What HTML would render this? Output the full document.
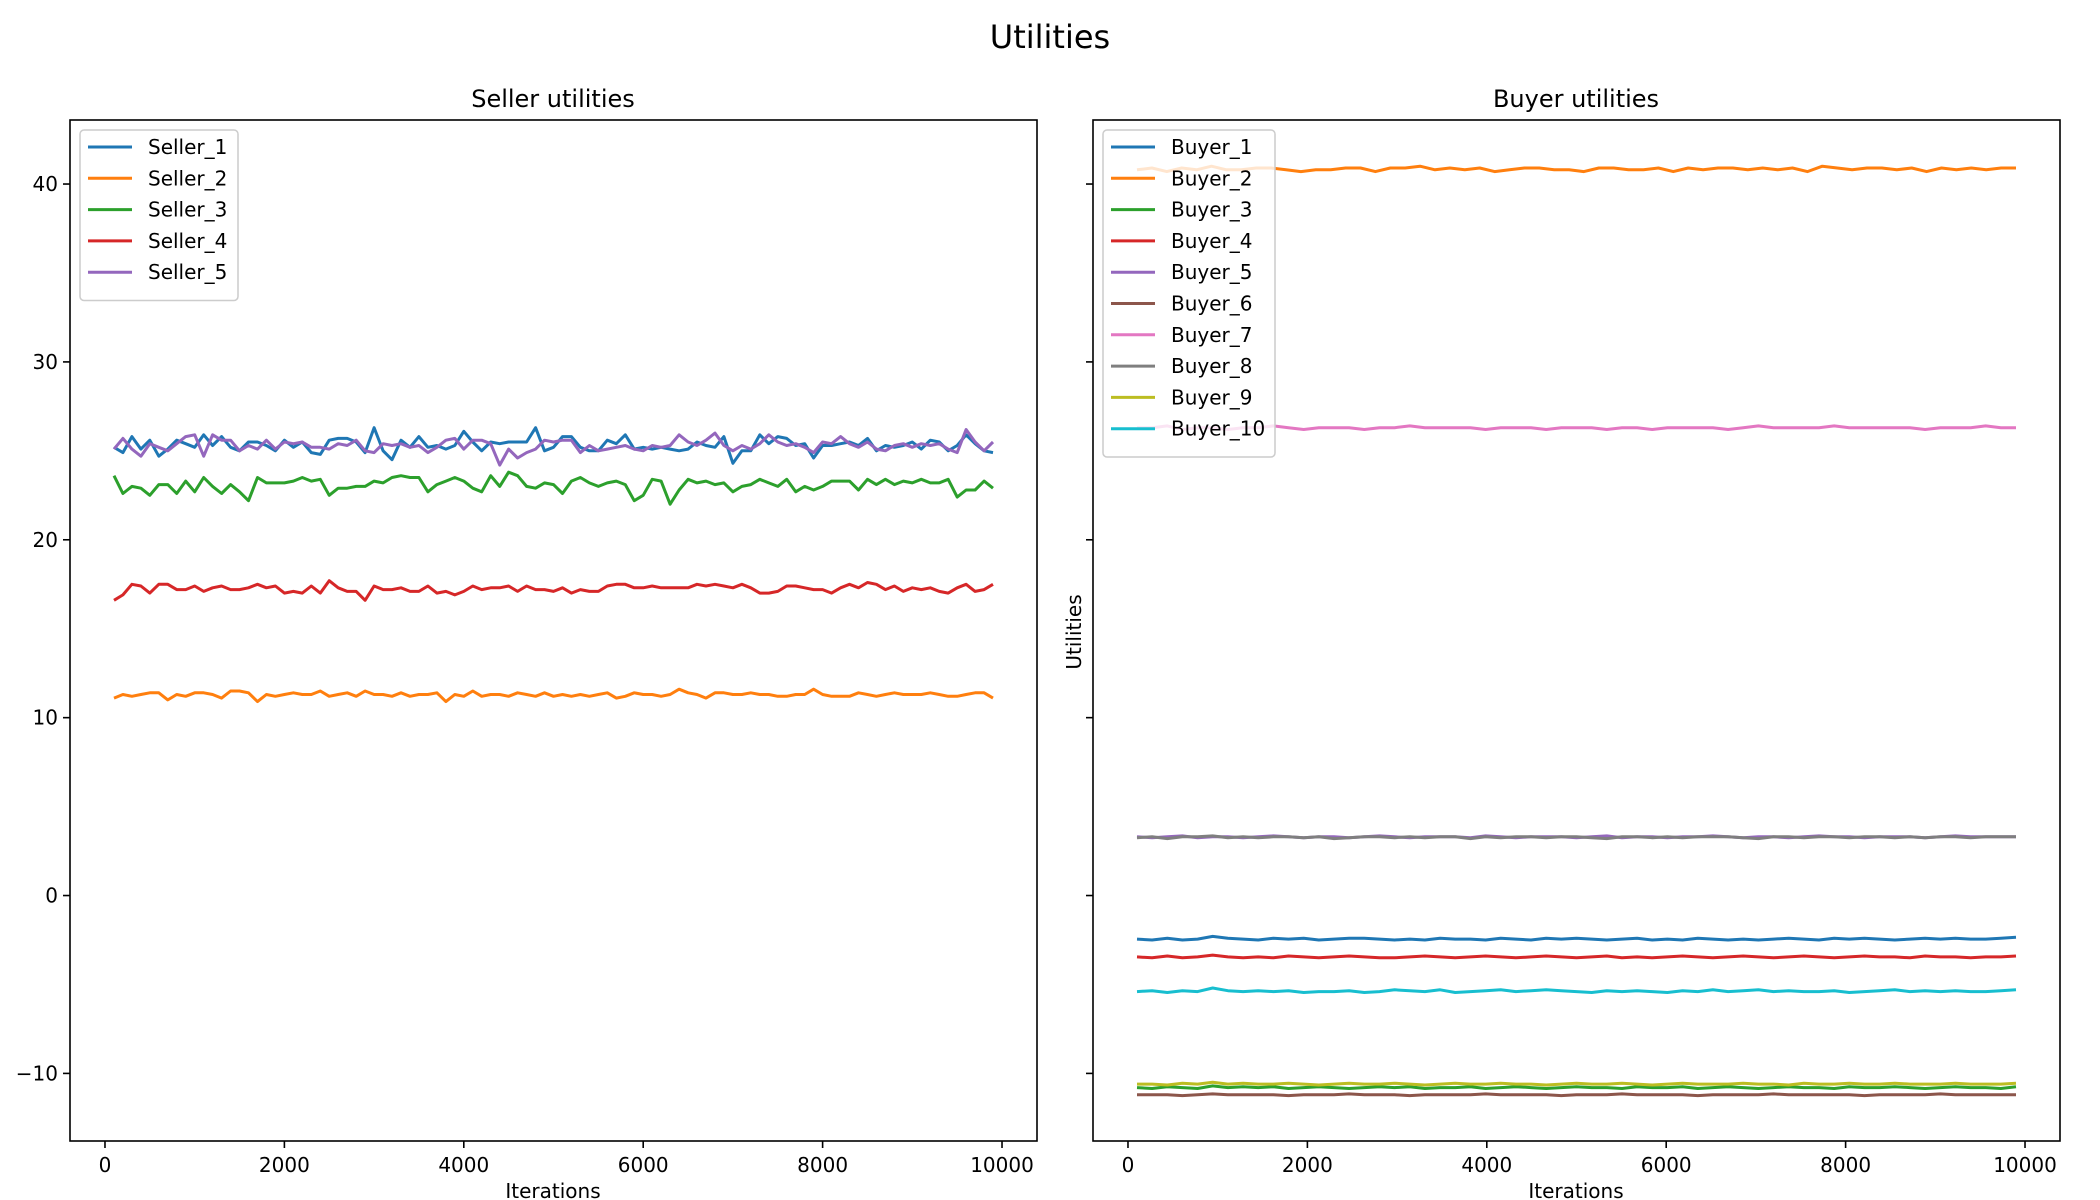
<!DOCTYPE html>
<html><head><meta charset="utf-8"><style>
html,body{margin:0;padding:0;background:#fff;}
svg{display:block;font-family:"DejaVu Sans","Liberation Sans",sans-serif;}
</style></head><body>
<svg id="fig" width="2100" height="1200" viewBox="0 0 2100 1200" xmlns="http://www.w3.org/2000/svg">
<text x="1050" y="48" font-size="32" text-anchor="middle">Utilities</text>
<text x="553" y="107" font-size="24" text-anchor="middle">Seller utilities</text>
<text x="1576" y="107" font-size="24" text-anchor="middle">Buyer utilities</text>
<text transform="translate(1081,632) rotate(-90)" font-size="20" text-anchor="middle">Utilities</text>
<text x="553" y="1198" font-size="20" text-anchor="middle">Iterations</text>
<text x="1576" y="1198" font-size="20" text-anchor="middle">Iterations</text>
<g id="left"></g>
<g id="right"></g>
</svg>
<script>
const xTicks = [0, 2000, 4000, 6000, 8000, 10000];
const yTicks = [-10, 0, 10, 20, 30, 40];
const xDomain = [-390, 10390];
const yDomain = [-13.8, 43.6];
const iterFirst = 100, iterLast = 9900;

const sellerNames = ["Seller_1","Seller_2","Seller_3","Seller_4","Seller_5"];
const seller1 = [25.2,24.9,25.8,25.1,25.6,24.7,25.1,25.6,25.4,25.2,25.9,25.3,25.8,25.2,25.0,25.5,25.5,25.3,25.0,25.6,25.2,25.5,24.9,24.8,25.6,25.7,25.7,25.5,24.9,26.3,25.0,24.5,25.6,25.2,25.8,25.2,25.3,25.1,25.3,26.1,25.5,25.0,25.5,25.4,25.5,25.5,25.5,26.3,25.0,25.2,25.8,25.8,25.2,25.0,25.0,25.6,25.4,25.9,25.1,25.2,25.1,25.2,25.1,25.0,25.1,25.5,25.3,25.2,25.8,24.3,25.0,25.0,25.9,25.4,25.8,25.7,25.3,25.4,24.6,25.3,25.3,25.4,25.5,25.3,25.7,25.0,25.3,25.2,25.3,25.5,25.1,25.6,25.5,25.0,25.3,25.9,25.4,25.0,24.9];
const seller2 = [11.1,11.3,11.2,11.3,11.4,11.4,11.0,11.3,11.2,11.4,11.4,11.3,11.1,11.5,11.5,11.4,10.9,11.3,11.2,11.3,11.4,11.3,11.3,11.5,11.2,11.3,11.4,11.2,11.5,11.3,11.3,11.2,11.4,11.2,11.3,11.3,11.4,10.9,11.3,11.2,11.5,11.2,11.3,11.3,11.2,11.4,11.3,11.2,11.4,11.2,11.3,11.2,11.3,11.2,11.3,11.4,11.1,11.2,11.4,11.3,11.3,11.2,11.3,11.6,11.4,11.3,11.1,11.4,11.4,11.3,11.3,11.4,11.3,11.3,11.2,11.2,11.3,11.3,11.6,11.3,11.2,11.2,11.2,11.4,11.3,11.2,11.3,11.4,11.3,11.3,11.3,11.4,11.3,11.2,11.2,11.3,11.4,11.4,11.1];
const seller3 = [23.6,22.6,23.0,22.9,22.5,23.1,23.1,22.6,23.3,22.7,23.5,23.0,22.6,23.1,22.7,22.2,23.5,23.2,23.2,23.2,23.3,23.5,23.3,23.4,22.5,22.9,22.9,23.0,23.0,23.3,23.2,23.5,23.6,23.5,23.5,22.7,23.1,23.3,23.5,23.3,22.9,22.7,23.6,23.0,23.8,23.6,23.0,22.9,23.2,23.1,22.6,23.3,23.5,23.2,23.0,23.2,23.3,23.1,22.2,22.5,23.4,23.3,22.0,22.8,23.4,23.2,23.3,23.1,23.2,22.7,23.0,23.1,23.4,23.2,23.0,23.4,22.7,23.0,22.8,23.0,23.3,23.3,23.3,22.8,23.4,23.1,23.4,23.1,23.3,23.2,23.4,23.2,23.2,23.4,22.4,22.8,22.8,23.3,22.9];
const seller4 = [16.6,16.9,17.5,17.4,17.0,17.5,17.5,17.2,17.2,17.4,17.1,17.3,17.4,17.2,17.2,17.3,17.5,17.3,17.4,17.0,17.1,17.0,17.4,17.0,17.7,17.3,17.1,17.1,16.6,17.4,17.2,17.2,17.3,17.1,17.1,17.4,17.0,17.1,16.9,17.1,17.4,17.2,17.3,17.3,17.4,17.1,17.4,17.2,17.2,17.1,17.3,17.0,17.2,17.1,17.1,17.4,17.5,17.5,17.3,17.3,17.4,17.3,17.3,17.3,17.3,17.5,17.4,17.5,17.4,17.3,17.5,17.3,17.0,17.0,17.1,17.4,17.4,17.3,17.2,17.2,17.0,17.3,17.5,17.3,17.6,17.5,17.2,17.4,17.1,17.3,17.2,17.3,17.1,17.0,17.3,17.5,17.1,17.2,17.5];
const seller5 = [25.1,25.7,25.1,24.7,25.4,25.2,25.0,25.4,25.8,25.9,24.7,25.9,25.6,25.6,25.0,25.3,25.1,25.6,25.1,25.5,25.4,25.5,25.2,25.2,25.1,25.4,25.3,25.6,25.0,24.9,25.4,25.3,25.4,25.2,25.3,24.9,25.2,25.6,25.7,25.1,25.6,25.6,25.4,24.2,25.1,24.6,24.9,25.1,25.6,25.5,25.6,25.6,24.9,25.3,25.0,25.1,25.2,25.3,25.1,25.0,25.3,25.2,25.3,25.9,25.5,25.3,25.6,26.0,25.3,25.0,25.3,25.1,25.4,25.9,25.5,25.3,25.4,25.2,24.9,25.5,25.4,25.8,25.4,25.2,25.5,25.1,25.0,25.3,25.4,25.2,25.4,25.3,25.4,25.1,24.9,26.2,25.5,25.0,25.5];

const buyerNames = ["Buyer_1","Buyer_2","Buyer_3","Buyer_4","Buyer_5","Buyer_6","Buyer_7","Buyer_8","Buyer_9","Buyer_10"];
const buyer1 = [-2.45,-2.5,-2.4,-2.5,-2.45,-2.3,-2.4,-2.45,-2.5,-2.4,-2.45,-2.4,-2.5,-2.45,-2.4,-2.4,-2.45,-2.5,-2.45,-2.5,-2.4,-2.45,-2.45,-2.5,-2.4,-2.45,-2.5,-2.4,-2.45,-2.4,-2.45,-2.5,-2.45,-2.4,-2.5,-2.45,-2.5,-2.4,-2.45,-2.5,-2.45,-2.5,-2.45,-2.4,-2.45,-2.5,-2.4,-2.45,-2.4,-2.45,-2.5,-2.45,-2.4,-2.45,-2.4,-2.45,-2.45,-2.4,-2.35];
const buyer2 = [40.8,40.9,40.7,40.9,40.8,41.0,40.8,40.8,40.9,40.9,40.8,40.7,40.8,40.8,40.9,40.9,40.7,40.9,40.9,41.0,40.8,40.9,40.8,40.9,40.7,40.8,40.9,40.9,40.8,40.8,40.7,40.9,40.9,40.8,40.8,40.9,40.7,40.9,40.8,40.9,40.9,40.8,40.9,40.8,40.9,40.7,41.0,40.9,40.8,40.9,40.9,40.8,40.9,40.7,40.9,40.8,40.9,40.8,40.9,40.9];
const buyer3 = [-10.8,-10.85,-10.75,-10.8,-10.85,-10.7,-10.8,-10.75,-10.8,-10.75,-10.85,-10.8,-10.75,-10.8,-10.85,-10.8,-10.75,-10.8,-10.75,-10.85,-10.8,-10.8,-10.75,-10.85,-10.8,-10.75,-10.8,-10.85,-10.8,-10.75,-10.8,-10.8,-10.85,-10.75,-10.8,-10.8,-10.75,-10.85,-10.8,-10.75,-10.8,-10.85,-10.8,-10.75,-10.8,-10.8,-10.85,-10.75,-10.8,-10.8,-10.75,-10.8,-10.85,-10.8,-10.75,-10.8,-10.8,-10.85,-10.75];
const buyer4 = [-3.45,-3.5,-3.4,-3.5,-3.45,-3.35,-3.45,-3.5,-3.45,-3.5,-3.4,-3.45,-3.5,-3.45,-3.4,-3.45,-3.5,-3.5,-3.45,-3.4,-3.45,-3.5,-3.45,-3.4,-3.45,-3.5,-3.45,-3.4,-3.45,-3.5,-3.45,-3.4,-3.5,-3.45,-3.5,-3.45,-3.4,-3.45,-3.5,-3.45,-3.4,-3.45,-3.5,-3.45,-3.4,-3.45,-3.5,-3.45,-3.4,-3.45,-3.45,-3.5,-3.4,-3.45,-3.45,-3.5,-3.45,-3.45,-3.4];
const buyer5 = [3.3,3.25,3.3,3.35,3.25,3.3,3.3,3.25,3.3,3.35,3.3,3.25,3.3,3.3,3.25,3.3,3.35,3.3,3.25,3.3,3.3,3.3,3.25,3.35,3.3,3.25,3.3,3.3,3.3,3.25,3.3,3.35,3.25,3.3,3.3,3.25,3.3,3.3,3.35,3.3,3.25,3.3,3.3,3.25,3.3,3.35,3.3,3.3,3.25,3.3,3.3,3.3,3.25,3.3,3.35,3.3,3.3,3.3,3.3];
const buyer6 = [-11.2,-11.2,-11.2,-11.25,-11.2,-11.15,-11.2,-11.2,-11.2,-11.2,-11.25,-11.2,-11.2,-11.2,-11.15,-11.2,-11.2,-11.2,-11.25,-11.2,-11.2,-11.2,-11.2,-11.15,-11.2,-11.2,-11.2,-11.2,-11.25,-11.2,-11.2,-11.2,-11.15,-11.2,-11.2,-11.2,-11.2,-11.25,-11.2,-11.2,-11.2,-11.2,-11.15,-11.2,-11.2,-11.2,-11.2,-11.2,-11.25,-11.2,-11.2,-11.2,-11.2,-11.15,-11.2,-11.2,-11.2,-11.2,-11.2];
const buyer7 = [26.3,26.3,26.4,26.2,26.3,26.3,26.2,26.3,26.3,26.4,26.3,26.2,26.3,26.3,26.3,26.2,26.3,26.3,26.4,26.3,26.3,26.3,26.3,26.2,26.3,26.3,26.3,26.2,26.3,26.3,26.3,26.2,26.3,26.3,26.2,26.3,26.3,26.3,26.3,26.2,26.3,26.4,26.3,26.3,26.3,26.3,26.4,26.3,26.3,26.3,26.3,26.3,26.2,26.3,26.3,26.3,26.4,26.3,26.3];
const buyer8 = [3.25,3.3,3.2,3.3,3.3,3.35,3.25,3.3,3.25,3.3,3.3,3.25,3.3,3.2,3.25,3.3,3.3,3.25,3.3,3.25,3.3,3.3,3.2,3.3,3.25,3.3,3.3,3.25,3.3,3.3,3.25,3.2,3.3,3.3,3.25,3.3,3.25,3.3,3.3,3.3,3.25,3.2,3.3,3.3,3.25,3.3,3.3,3.25,3.3,3.3,3.25,3.3,3.25,3.3,3.3,3.25,3.3,3.3,3.3];
const buyer9 = [-10.6,-10.6,-10.65,-10.55,-10.6,-10.5,-10.6,-10.55,-10.6,-10.6,-10.55,-10.6,-10.65,-10.6,-10.55,-10.6,-10.6,-10.55,-10.6,-10.65,-10.6,-10.55,-10.6,-10.6,-10.55,-10.6,-10.6,-10.65,-10.6,-10.55,-10.6,-10.6,-10.55,-10.6,-10.65,-10.6,-10.55,-10.6,-10.6,-10.6,-10.55,-10.6,-10.6,-10.65,-10.55,-10.6,-10.6,-10.55,-10.6,-10.6,-10.55,-10.6,-10.6,-10.6,-10.55,-10.6,-10.6,-10.6,-10.55];
const buyer10 = [-5.4,-5.35,-5.45,-5.35,-5.4,-5.2,-5.35,-5.4,-5.35,-5.4,-5.35,-5.45,-5.4,-5.4,-5.35,-5.45,-5.4,-5.3,-5.35,-5.4,-5.3,-5.45,-5.4,-5.35,-5.3,-5.4,-5.35,-5.3,-5.35,-5.4,-5.45,-5.35,-5.4,-5.35,-5.4,-5.45,-5.35,-5.4,-5.3,-5.4,-5.35,-5.3,-5.4,-5.35,-5.4,-5.4,-5.35,-5.45,-5.4,-5.35,-5.3,-5.4,-5.35,-5.4,-5.35,-5.4,-5.4,-5.35,-5.3];

const colors = ["#1f77b4","#ff7f0e","#2ca02c","#d62728","#9467bd","#8c564b","#e377c2","#7f7f7f","#bcbd22","#17becf"];
const NS = "http://www.w3.org/2000/svg";
function mk(tag, attrs, parent){const e=document.createElementNS(NS,tag);for(const k in attrs)e.setAttribute(k,attrs[k]);parent.appendChild(e);return e;}

function panel(g, left, top, w, h, names, series, showYLabels, legendW){
  const sx = v => left + (v - xDomain[0]) / (xDomain[1]-xDomain[0]) * w;
  const sy = v => top + h - (v - yDomain[0]) / (yDomain[1]-yDomain[0]) * h;
  series.forEach((arr, s) => {
    const n = arr.length;
    const pts = arr.map((v,i) => sx(iterFirst + i*(iterLast-iterFirst)/(n-1)).toFixed(1)+","+sy(v).toFixed(1)).join(" ");
    const pl = mk("polyline",{points:pts,fill:"none",stroke:colors[s],"stroke-width":3,"stroke-linejoin":"round"},g);
    
    
  });
  const frame = mk("rect",{x:left,y:top,width:w,height:h,fill:"none",stroke:"#000","stroke-width":1.6},g);
  
  
  xTicks.forEach(t => {
    const x = sx(t);
    const tk = mk("line",{x1:x,x2:x,y1:top+h,y2:top+h+7,stroke:"#000","stroke-width":1.6},g);
    
    
    const tl = mk("text",{x:x,y:top+h+31,"font-size":20,"text-anchor":"middle"},g);
    tl.textContent = t;
    
    
  });
  yTicks.forEach(t => {
    const y = sy(t);
    const tk = mk("line",{x1:left-7,x2:left,y1:y,y2:y,stroke:"#000","stroke-width":1.6},g);
    
    
    if (showYLabels){
      const tl = mk("text",{x:left-12,y:y+7,"font-size":20,"text-anchor":"end"},g);
      tl.textContent = t < 0 ? "\u2212"+Math.abs(t) : t;
      
      
    }
  });
  const lg = mk("g",{},g);
  
  
  const lx = left+10, ly = top+10;
  mk("rect",{x:lx,y:ly,width:legendW,height:names.length*31.3+14,rx:4,fill:"#fff","fill-opacity":0.8,stroke:"#ccc","stroke-width":1.5},lg);
  names.forEach((nm,i) => {
    const y = ly + 17 + i*31.3;
    const e = mk("g",{},lg);
    
    
    mk("line",{x1:lx+8,x2:lx+52,y1:y,y2:y,stroke:colors[i],"stroke-width":3},e);
    const t = mk("text",{x:lx+68,y:y+7,"font-size":20},e);
    t.textContent = nm;
  });
}
panel(document.getElementById("left"), 70, 120, 967, 1021, sellerNames, [seller1,seller2,seller3,seller4,seller5], true, 158);
panel(document.getElementById("right"), 1093, 120, 967, 1021, buyerNames, [buyer1,buyer2,buyer3,buyer4,buyer5,buyer6,buyer7,buyer8,buyer9,buyer10], false, 172);
</script>
</body></html>
